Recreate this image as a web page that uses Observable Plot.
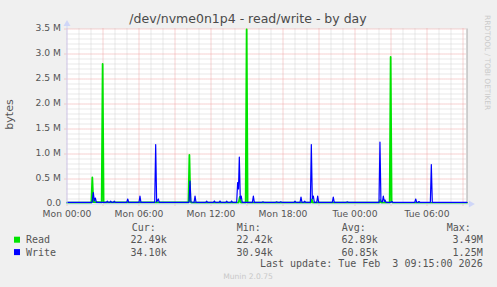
<!DOCTYPE html>
<html><head><meta charset="utf-8">
<script src="https://cdn.jsdelivr.net/npm/d3@7"></script>
<script src="https://cdn.jsdelivr.net/npm/@observablehq/plot@0.6"></script>
<style>
body{margin:0;background:#f0f0f0;}
#c{position:relative;width:497px;height:287px;overflow:hidden;}
#c svg{position:absolute;left:0;top:0;}
</style></head><body><div id="c"></div>
<script>
// ---- data (time in hours since Mon 00:00, values in kB/s) ----
const tickHours = [0, 6, 12, 18, 24, 30];
const tickLabels = ["Mon 00:00", "Mon 06:00", "Mon 12:00", "Mon 18:00", "Tue 00:00", "Tue 06:00"];
const yTickValues = [0, 0.5e6, 1.0e6, 1.5e6, 2.0e6, 2.5e6, 3.0e6, 3.5e6];
const yTickLabels = ["0.0", "0.5 M", "1.0 M", "1.5 M", "2.0 M", "2.5 M", "3.0 M", "3.5 M"];

const readTime = [0, 2.03, 2.11, 2.19, 2.89, 2.97, 3.05, 10.12, 10.2, 10.28, 10.36, 14.3, 14.4, 14.5, 14.89, 14.97, 15.05,
  20.32, 20.4, 20.48, 26.02, 26.1, 26.18, 26.89, 26.97, 27.05, 27.13, 33.33];
const readKB = [25, 25, 530, 40, 30, 2800, 30, 30, 980, 60, 25, 25, 140, 25, 25, 3490, 25,
  25, 90, 25, 25, 80, 25, 25, 2940, 60, 22, 22.5];

const writeTime = [0, 2.1, 2.19, 2.28, 2.36, 2.45, 3.28, 3.36, 3.44, 3.56, 3.64, 3.72, 3.86, 3.94, 4.02,
  4.98, 5.06, 5.14, 6.0, 6.08, 6.16, 7.31, 7.39, 7.47, 7.61, 7.69,
  10.17, 10.25, 10.33, 10.59, 10.67, 10.75, 11.56, 11.64, 11.72, 12.2, 12.28, 12.36, 12.67, 12.75, 12.83,
  13.23, 13.31, 13.39, 13.64, 13.72, 13.8, 14.14, 14.22, 14.29, 14.36, 14.44, 14.52, 14.6,
  15.45, 15.53, 15.61, 16.25, 16.33, 16.41, 17.39, 17.47, 17.55, 17.73, 17.81, 17.89,
  18.92, 19.0, 19.08, 19.42, 19.5, 19.58, 19.73, 19.81, 19.89, 20.28, 20.36, 20.44, 20.53, 20.61,
  20.81, 20.89, 20.97, 22.11, 22.19, 22.27, 23.28, 23.36, 23.44,
  26.0, 26.08, 26.16, 26.28, 26.36, 26.44, 26.5, 26.58, 26.98, 27.06, 27.14,
  28.98, 29.06, 29.14, 29.25, 29.33, 29.41, 30.28, 30.36, 30.44, 33.33];
const writeKB = [34, 34, 230, 60, 120, 34, 34, 55, 34, 34, 55, 34, 34, 55, 34,
  34, 100, 34, 34, 160, 34, 34, 1190, 40, 100, 34,
  34, 460, 40, 34, 160, 34, 34, 55, 34, 34, 60, 34, 34, 60, 34,
  34, 55, 34, 34, 60, 34, 34, 430, 300, 940, 100, 160, 34,
  34, 160, 34, 34, 45, 34, 34, 45, 34, 34, 45, 34,
  34, 55, 34, 34, 140, 34, 34, 55, 34, 34, 1190, 100, 160, 34,
  34, 160, 34, 34, 140, 34, 34, 45, 34,
  34, 1240, 60, 40, 160, 50, 80, 34, 34, 50, 34,
  34, 100, 34, 34, 50, 34, 34, 790, 34, 34.1];

const legendNames = ["Read", "Write"];
const legendColors = ["#00e400", "#0000ff"];
const legendCur = ["22.49k", "34.10k"];
const legendMin = ["22.42k", "30.94k"];
const legendAvg = ["62.89k", "60.85k"];
const legendMax = ["3.49M", "1.25M"];

const read = readTime.map((t, i) => ({t, v: readKB[i] * 1000}));
const write = writeTime.map((t, i) => ({t, v: writeKB[i] * 1000}));

const xEnd = 33.333;
const minorX = d3.range(1, 34).filter(h => h % 3 !== 0);
const majorX = d3.range(0, 34, 3);
const minorY = d3.range(1, 35).filter(k => k % 5 !== 0).map(k => k * 1e5);
const majorY = d3.range(1, 8).map(k => k * 5e5);

const gridGrey = "#d2d2d2", gridRed = "#eea4a4", axisCol = "#CFD6F8";

const chart = Plot.plot({
  width: 497, height: 287,
  marginLeft: 66.5, marginRight: 30.5, marginTop: 28.5, marginBottom: 83.5,
  style: {background: "transparent", fontFamily: "DejaVu Sans", color: "#555", overflow: "visible"},
  x: {domain: [0, xEnd], axis: null},
  y: {domain: [0, 3.5e6], axis: null},
  marks: [
    Plot.frame({fill: "white", stroke: null}),
    Plot.ruleX(minorX, {stroke: gridGrey, strokeDasharray: "1,1", y1: 0, y2: 3.5e6}),
    Plot.ruleY(minorY, {stroke: gridGrey, strokeDasharray: "1,1", x1: 0, x2: xEnd}),
    Plot.ruleX(majorX, {stroke: gridRed, strokeDasharray: "1,1", y1: -0.04e6, y2: 3.5e6}),
    Plot.ruleY(majorY, {stroke: gridRed, strokeDasharray: "1,1", x1: -2/12, x2: xEnd}),
    Plot.ruleX([xEnd], {stroke: "#a8a8a8", y1: 0, y2: 3.5e6}),
    Plot.line(read, {x: "t", y: "v", stroke: legendColors[0], strokeWidth: 1.8}),
    Plot.line(write, {x: "t", y: "v", stroke: legendColors[1], strokeWidth: 1.2}),
    Plot.ruleX([0], {stroke: axisCol, y1: 0, y2: 3.6e6}),
    Plot.ruleY([0], {stroke: axisCol, x1: 0, x2: 33.65}),
    Plot.dot([{x: 0, y: 3.6e6}], {x: "x", y: "y", symbol: "triangle", r: 2.6, fill: axisCol, stroke: null}),
    Plot.dot([{x: 33.65, y: 0}], {x: "x", y: "y", symbol: "triangle", r: 2.6, fill: axisCol, stroke: null, rotate: 90}),
    Plot.axisX(tickHours, {tickSize: 0, tickPadding: 6, fontSize: 9.2, tickFormat: (d, i) => tickLabels[i], fill: "#555"}),
    Plot.axisY(yTickValues, {tickSize: 0, tickPadding: 6, fontSize: 9.2, dy: -0.8, tickFormat: (d, i) => yTickLabels[i], fill: "#555"})
  ]
});
document.getElementById("c").appendChild(chart);

// ---- text overlay: title, labels, legend ----
const svg = d3.select("#c").append("svg").attr("width", 497).attr("height", 287)
  .style("font-family", "DejaVu Sans");
svg.append("text").attr("x", 248).attr("y", 22.5).attr("text-anchor", "middle")
  .attr("font-size", 12.5).attr("fill", "#4a4a4a").text("/dev/nvme0n1p4 - read/write - by day");
svg.append("text").attr("transform", "translate(13.3,114.5) rotate(-90)").attr("text-anchor", "middle")
  .attr("font-size", 11).attr("fill", "#555").text("bytes");
svg.append("text").attr("transform", "translate(484.5,15) rotate(90)").attr("text-anchor", "start")
  .attr("font-size", 7.4).attr("fill", "#cacaca").text("RRDTOOL / TOBI OETIKER");
svg.append("text").attr("x", 248).attr("y", 278.5).attr("text-anchor", "middle")
  .attr("font-size", 7.6).attr("fill", "#c8c8c8").text("Munin 2.0.75");

const mono = svg.append("g").style("font-family", "DejaVu Sans Mono").attr("font-size", 10).attr("fill", "#555")
  .style("white-space", "pre");
const headX = [131.7, 236.7, 341.7, 446.7];
["Cur:", "Min:", "Avg:", "Max:"].forEach((h, i) => mono.append("text").attr("x", headX[i]).attr("y", 231).text(h));
const valX = [166.7, 272.7, 377.7, 482.7];
const rowY = [243.3, 255.7];
legendNames.forEach((n, r) => {
  svg.append("rect").attr("x", 14).attr("y", rowY[r] - 6.6).attr("width", 6).attr("height", 6).attr("fill", legendColors[r]);
  mono.append("text").attr("x", 26).attr("y", rowY[r]).text(n);
  [legendCur[r], legendMin[r], legendAvg[r], legendMax[r]].forEach((v, i) =>
    mono.append("text").attr("x", valX[i]).attr("y", rowY[r]).attr("text-anchor", "end").text(v));
});
mono.append("text").attr("x", 482.7).attr("y", 267.4).attr("text-anchor", "end")
  .attr("xml:space", "preserve").text("Last update: Tue Feb  3 09:15:00 2026");
</script>
</body></html>
